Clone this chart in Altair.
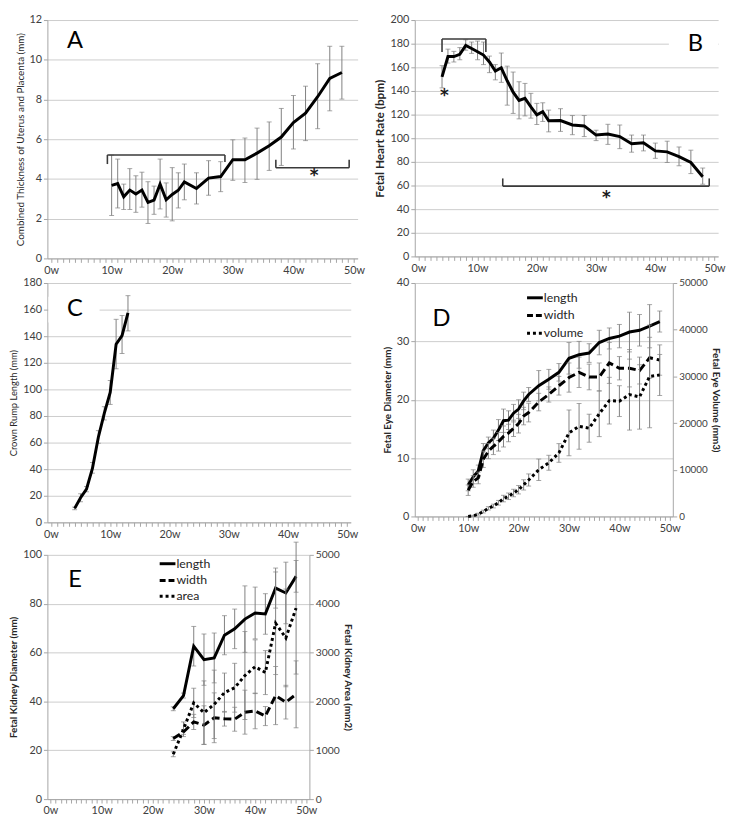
import altair as alt
import pandas as pd

# ---------------- data ----------------
A_weeks = [10, 11, 12, 13, 14, 15, 16, 17, 18, 19, 20, 21, 22, 24, 26, 28, 30, 32, 34, 36, 38, 40, 42, 44, 46, 48]
A_mean = [3.68, 3.77, 3.10, 3.44, 3.24, 3.44, 2.82, 2.94, 3.74, 2.95, 3.22, 3.43, 3.85, 3.52, 4.04, 4.12,
          4.97, 4.97, 5.30, 5.67, 6.11, 6.84, 7.31, 8.14, 9.06, 9.36]
A_low = [2.16, 2.54, 2.46, 2.46, 2.32, 2.58, 1.76, 2.22, 2.49, 2.08, 1.89, 2.54, 2.95, 2.74, 3.18, 3.36,
         3.93, 3.82, 3.98, 4.43, 4.68, 5.51, 5.93, 6.53, 7.43, 8.02]
A_high = [5.20, 5.00, 3.74, 4.52, 4.16, 4.34, 3.86, 3.64, 5.00, 3.80, 4.57, 4.31, 4.75, 4.31, 4.92, 4.87,
          5.97, 6.06, 6.56, 6.87, 7.55, 8.20, 8.67, 9.80, 10.68, 10.68]

B_weeks = [4, 5, 6, 7, 8, 9, 10, 11, 12, 13, 14, 15, 16, 17, 18, 19, 20, 21, 22,
           24, 26, 28, 30, 32, 34, 36, 38, 40, 42, 44, 46, 48]
B_mean = [151.9, 169.1, 169.1, 171.0, 178.6, 175.9, 173.2, 170.4, 164.5, 156.8, 159.6, 148.6, 139.0, 132.0,
          133.8, 126.6, 119.8, 122.4, 114.8, 115.0, 111.2, 110.4, 102.7, 103.6, 101.4, 95.3, 96.2, 89.3,
          88.5, 84.4, 79.5, 67.4]
B_low = [142.6, 163.6, 164.5, 166.4, 174.5, 171.8, 166.4, 162.3, 155.5, 149.4, 147.3, 128.0, 121.0, 116.4,
         118.9, 117.0, 111.6, 114.2, 105.4, 105.8, 103.0, 101.4, 98.0, 94.8, 91.2, 88.2, 89.3, 83.0,
         79.5, 76.7, 70.1, 61.1]
B_high = [161.4, 175.4, 173.5, 176.7, 183.3, 181.4, 182.2, 181.4, 169.5, 162.3, 172.1, 161.0, 156.0, 147.8,
          146.4, 138.0, 129.5, 130.0, 123.8, 125.0, 119.2, 119.2, 106.8, 111.8, 111.2, 102.7, 102.7, 95.9,
          97.5, 92.6, 89.9, 74.8]

C_weeks = [4, 5, 6, 7, 8, 9, 10, 11, 12, 13]
C_mean = [10.5, 18.5, 25.0, 40.5, 64.0, 82.0, 97.7, 134.0, 140.5, 157.5]
C_low = [9.5, 15.5, 23.0, 37.0, 59.5, 77.0, 88.7, 115.5, 127.0, 144.0]
C_high = [11.5, 21.5, 27.0, 45.0, 69.0, 87.0, 106.7, 152.7, 155.6, 170.5]

D_weeks = [10, 11, 12, 13, 14, 15, 16, 17, 18, 19, 20, 21, 22, 24, 26, 28, 30, 32, 34, 36, 38, 40, 42, 44, 46, 48]
D_length = [5.4, 6.8, 7.8, 11.3, 12.6, 13.4, 14.8, 16.4, 16.5, 17.7, 18.4, 19.8, 20.9, 22.4, 23.5, 24.7,
            27.1, 27.7, 28.0, 29.8, 30.5, 30.9, 31.6, 31.9, 32.6, 33.4]
D_length_err = [1.0, 1.2, 1.0, 1.2, 1.0, 1.4, 1.8, 2.0, 1.6, 1.5, 1.6, 1.5, 1.2, 2.6, 1.7, 1.5,
                2.7, 2.3, 1.6, 2.1, 1.8, 2.0, 3.4, 2.7, 3.7, 1.8]
D_width = [4.5, 6.0, 6.6, 9.8, 11.2, 12.0, 12.8, 13.7, 14.3, 15.1, 15.9, 17.2, 17.8, 19.6, 20.9, 22.4,
           23.8, 24.7, 23.9, 23.9, 26.3, 25.4, 25.4, 25.0, 27.2, 26.8]
D_width_err = [0.9, 1.0, 1.0, 1.4, 1.3, 1.4, 1.6, 1.8, 1.5, 1.4, 1.6, 1.5, 1.6, 1.5, 1.3, 1.6,
               2.5, 2.6, 2.2, 2.4, 3.5, 2.0, 3.2, 2.3, 3.5, 2.6]
D_volume = [0, 140, 490, 1050, 1740, 2230, 2930, 3830, 4320, 5020, 5720, 6760, 7810, 10000, 11500, 13600,
            17900, 19300, 18900, 22000, 24800, 24700, 26100, 25600, 30000, 30300]
D_volume_err = [0, 100, 200, 300, 350, 400, 500, 700, 700, 800, 900, 1100, 1300, 2300, 1600, 2000,
                4900, 4900, 3000, 4900, 5000, 3300, 7600, 6900, 11000, 4400]

E_weeks = [24, 26, 28, 30, 32, 34, 36, 38, 40, 42, 44, 46, 48]
E_length = [37.0, 42.4, 62.6, 57.1, 57.8, 67.1, 69.7, 73.7, 76.2, 75.8, 86.4, 84.4, 91.2]
E_length_err = [0.8, 1.0, 8.1, 10.5, 10.2, 8.0, 8.1, 13.6, 10.6, 8.3, 8.2, 12.6, 6.5]
E_width = [24.8, 27.5, 31.6, 30.3, 33.3, 32.9, 32.7, 35.6, 36.1, 34.0, 42.4, 39.7, 42.9]
E_width_err = [0.8, 1.0, 3.1, 7.9, 10.2, 3.0, 4.9, 9.0, 7.3, 3.9, 11.9, 6.9, 13.7]
E_area = [918, 1430, 1970, 1770, 1940, 2180, 2280, 2530, 2710, 2590, 3600, 3300, 3910]
E_area_err = [50, 150, 300, 650, 700, 400, 500, 900, 550, 450, 1050, 1000, 1350]

# bracket annotations: (x, x2, y, y2)
A_brackets = [(9.3, 28.7, 5.21, 5.21), (9.3, 9.3, 4.75, 5.21), (28.7, 28.7, 4.85, 5.21),
              (37.1, 49.2, 4.56, 4.56), (37.1, 37.1, 4.56, 4.97), (49.2, 49.2, 4.56, 4.97)]
A_stars = [(43.4, 4.15)]
B_brackets = [(4.0, 11.4, 184, 184), (4.0, 4.0, 173, 184), (11.4, 11.4, 173, 184),
              (14.25, 49.1, 59.5, 59.5), (14.25, 14.25, 59.5, 66), (49.1, 49.1, 59.5, 66)]
B_stars = [(4.4, 136.0), (31.75, 49.5)]

# ---------------- styling ----------------
FONT = "Lato"
GRID = "#cccccc"
AXIS = "#a6a6a6"
ERR = "#808080"
TXT = "#404040"
XDOM = [-0.6, 50.6]
X_TICKS = list(range(0, 51))
ONE = pd.DataFrame({"k": [0]})


def x_enc(field="wk"):
    return alt.X(f"{field}:Q",
                 scale=alt.Scale(domain=XDOM, nice=False, zero=False),
                 axis=alt.Axis(values=X_TICKS,
                               labelExpr="datum.value % 10 == 0 ? datum.value + 'w' : ''",
                               title=None, grid=False, tickSize=4, labelFlush=False,
                               labelOverlap=False, labelPadding=2, labelFontSize=11))


def y_axis(title, maxv, step, tsize, tweight, orient="left", grid=True, lsize=11, tpad=4):
    return alt.Axis(values=list(range(0, maxv + 1, step)), title=title, orient=orient, grid=grid,
                    format="d", titleFontSize=tsize, titleFontWeight=tweight, labelFontSize=lsize,
                    tickSize=4, labelPadding=2, titlePadding=tpad)


def y_enc(field, ymax, axis):
    return alt.Y(f"{field}:Q", scale=alt.Scale(domain=[0, ymax], nice=False, zero=True), axis=axis)


def series(weeks, mean, low, high, ymax, axis, dash=None):
    df = pd.DataFrame({"wk": weeks, "val": mean, "lo": low, "hi": high})
    rule = alt.Chart(df).mark_rule(color=ERR, strokeWidth=1).encode(
        x=x_enc(), y=y_enc("lo", ymax, axis), y2="hi:Q")
    cap_lo = alt.Chart(df).mark_tick(color=ERR, orient="horizontal", size=5, thickness=1).encode(
        x=x_enc(), y=y_enc("lo", ymax, axis))
    cap_hi = alt.Chart(df).mark_tick(color=ERR, orient="horizontal", size=5, thickness=1).encode(
        x=x_enc(), y=y_enc("hi", ymax, axis))
    kw = dict(color="black", strokeWidth=3)
    if dash:
        kw["strokeDash"] = dash
    line = alt.Chart(df).mark_line(**kw).encode(x=x_enc(), y=y_enc("val", ymax, axis))
    return [rule, cap_lo, cap_hi, line]


def pm(vals, errs, sign):
    return [v + sign * e for v, e in zip(vals, errs)]


def brackets(rows, ymax, axis):
    df = pd.DataFrame(rows, columns=["x", "x2", "y", "y2"])
    return alt.Chart(df).mark_rule(color="#3a3a3a", strokeWidth=1.6).encode(
        x=x_enc("x"), x2="x2:Q", y=y_enc("y", ymax, axis), y2="y2:Q")


def stars(rows, ymax, axis):
    df = pd.DataFrame(rows, columns=["x", "y"])
    return alt.Chart(df).mark_text(text="*", font="DejaVu Sans", fontSize=17, fontWeight="bold",
                                   color="#1a1a1a", baseline="middle").encode(
        x=x_enc("x"), y=y_enc("y", ymax, axis))


def letter(ch, px, py):
    return alt.Chart(ONE).mark_text(text=ch, font=FONT, fontSize=24, color="black",
                                    align="center", baseline="middle").encode(
        x=alt.value(px), y=alt.value(py))


def white_box(x1, x2, y1, y2):
    return alt.Chart(ONE).mark_rect(color="white").encode(
        x=alt.value(x1), x2=alt.value(x2), y=alt.value(y1), y2=alt.value(y2))


def legend_entry(label, px, py, dash=None):
    kw = dict(color="black", strokeWidth=3)
    if dash:
        kw["strokeDash"] = dash
    sample = alt.Chart(ONE).mark_rule(**kw).encode(
        x=alt.value(px), x2=alt.value(px + 16), y=alt.value(py))
    txt = alt.Chart(ONE).mark_text(text=label, font=FONT, fontSize=12.5, color="#262626",
                                   align="left", baseline="middle").encode(
        x=alt.value(px + 17), y=alt.value(py))
    return [sample, txt]


DASH = [8, 4]
DOT = [3, 3]

# ---------------- panel A ----------------
axA = y_axis("Combined Thickness of  Uterus and Placenta (mm)", 12, 2, 10, "normal")
A = alt.layer(
    *series(A_weeks, A_mean, A_low, A_high, 12, axA),
    brackets(A_brackets, 12, axA), stars(A_stars, 12, axA),
    letter("A", 28, 21)
).properties(width=315, height=242)

# ---------------- panel B ----------------
axB = y_axis("Fetal Heart Rate (bpm)", 200, 20, 12, "bold")
B = alt.layer(
    white_box(258, 308, 12, 38),
    *series(B_weeks, B_mean, B_low, B_high, 200, axB),
    brackets(B_brackets, 200, axB), stars(B_stars, 200, axB),
    letter("B", 285, 24)
).properties(width=308, height=240)

# ---------------- panel C ----------------
axC = y_axis("Crown Rump Length (mm)", 180, 20, 9.5, "normal")
C = alt.layer(
    white_box(1, 53, 14, 40),
    *series(C_weeks, C_mean, C_low, C_high, 180, axC),
    letter("C", 28, 26)
).properties(width=308, height=243)

# ---------------- panel D ----------------
axD = y_axis("Fetal Eye Diameter (mm)", 40, 10, 10, "bold")
axD2 = y_axis("Fetal Eye Volume (mm3)", 50000, 10000, 10, "bold", orient="right", grid=False,
              lsize=10, tpad=3)
D_left = alt.layer(
    *series(D_weeks, D_length, pm(D_length, D_length_err, -1), pm(D_length, D_length_err, 1), 40, axD),
    *series(D_weeks, D_width, pm(D_width, D_width_err, -1), pm(D_width, D_width_err, 1), 40, axD, DASH),
    *legend_entry("length", 114, 15),
    *legend_entry("width", 114, 33, [6, 3]),
    *legend_entry("volume", 114, 51, DOT),
    letter("D", 27, 37)
)
D_right = alt.layer(
    *series(D_weeks, D_volume, pm(D_volume, D_volume_err, -1), pm(D_volume, D_volume_err, 1),
            50000, axD2, DOT)
)
D = alt.layer(D_left, D_right).resolve_scale(y="independent").properties(width=262, height=237)

# ---------------- panel E ----------------
axE = y_axis("Fetal Kidney Diameter (mm)", 100, 20, 10, "bold")
axE2 = y_axis("Fetal Kidney Area (mm2)", 5000, 1000, 10, "bold", orient="right", grid=False,
              lsize=10.5, tpad=3)
E_left = alt.layer(
    *series(E_weeks, E_length, pm(E_length, E_length_err, -1), pm(E_length, E_length_err, 1), 100, axE),
    *series(E_weeks, E_width, pm(E_width, E_width_err, -1), pm(E_width, E_width_err, 1), 100, axE, DASH),
    *legend_entry("length", 114, 9),
    *legend_entry("width", 114, 26, [6, 3]),
    *legend_entry("area", 114, 42, DOT),
    letter("E", 28, 26)
)
E_right = alt.layer(
    *series(E_weeks, E_area, pm(E_area, E_area_err, -1), pm(E_area, E_area_err, 1), 5000, axE2, DOT)
)
E = alt.layer(E_left, E_right).resolve_scale(y="independent").properties(width=266, height=248)

row1 = alt.hconcat(A, B, spacing=7)
row2 = alt.hconcat(C, D, spacing=24)

chart = alt.vconcat(row1, row2, E, spacing=2).properties(padding=0).configure_axis(
    labelFont=FONT, titleFont=FONT, labelColor=TXT, titleColor="#262626",
    domainColor=AXIS, tickColor=AXIS, gridColor=GRID, domainWidth=1, gridWidth=1, tickWidth=1
).configure_view(stroke=None)

chart.save("out.html", embed_options={"renderer": "svg", "actions": False})
